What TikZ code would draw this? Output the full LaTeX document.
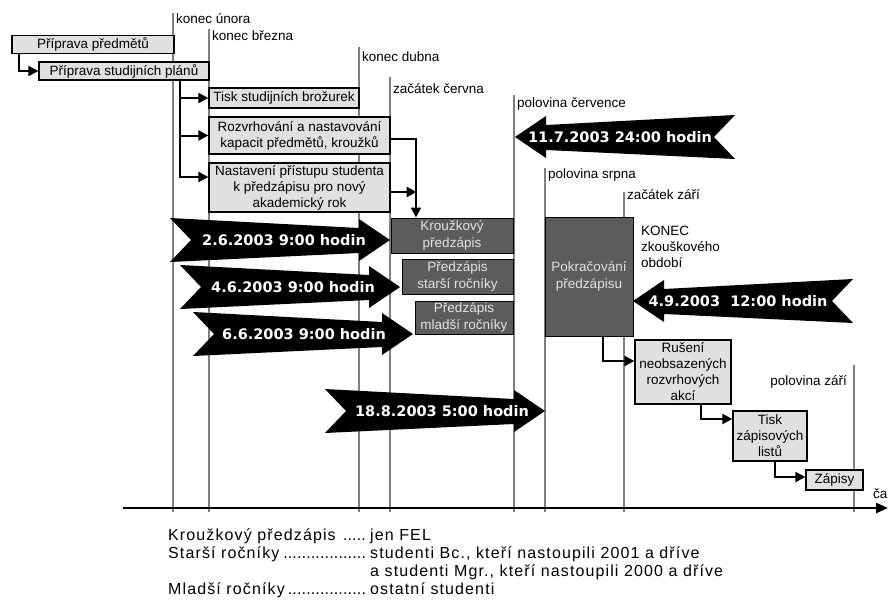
\documentclass[tikz,border=0pt]{standalone}
\usepackage{fontspec}
\setmainfont{Liberation Sans}
\newfontfamily\bannerfont{DejaVu Sans}
\newfontfamily\legendfont[LetterSpace=7]{Liberation Sans}
\usepackage{tikz}
\usetikzlibrary{arrows.meta}
\definecolor{boxgray}{RGB}{224,224,224}
\definecolor{predgray}{RGB}{92,92,92}
\definecolor{predtext}{RGB}{226,226,226}
\definecolor{linegray}{RGB}{128,128,128}
\newcommand{\legdots}{\leaders\hbox to 4.6pt{\hss.\hss}\hfill}

\begin{document}
\begin{tikzpicture}[x=1pt,y=-1pt,
    lbox/.style={draw,fill=boxgray,line width=1.2pt,inner sep=0pt,align=center,
      font=\fontsize{13.5}{16}\selectfont},
    dbox/.style={draw,fill=predgray,text=predtext,line width=1pt,inner sep=0pt,align=center,
      font=\fontsize{13.5}{16.5}\selectfont},
    tline/.style={draw=linegray,line width=2pt},
    conn/.style={draw,line width=2pt,-{Triangle[length=10pt,width=10pt]}},
    btext/.style={text=white,inner sep=0pt,font=\bannerfont\bfseries\fontsize{14.5}{16}\selectfont},
    lab/.style={anchor=base west,inner sep=0pt,font=\fontsize{13.5}{16}\selectfont},
    leg/.style={anchor=base west,inner sep=0pt,font=\legendfont\fontsize{16}{18}\selectfont},
    banner/.pic={\fill (0,0) -- (-31,-21) -- (-31,-12) -- (-220,-22) -- (-199,0)
      -- (-220,22) -- (-31,13) -- (-31,21) -- cycle;}]
  \path[use as bounding box,fill=white] (0,0) rectangle (889,600);

  % time lines
  \foreach \x/\t in {173/13,209/29,359/47,390/77,514/95,545/168,624/192,854/365}
    \draw[tline] (\x,\t) -- (\x,512);
  \node[lab] (unor) at (176,23) {konec února};
  \node[lab] (brez) at (212,40) {konec března};
  \node[lab] (dub) at (362,61) {konec dubna};
  \node[lab] (cerv) at (393,93) {začátek června};
  \node[lab] (cvc) at (517,107) {polovina července};
  \node[lab] (srp) at (548,178) {polovina srpna};
  \node[lab] (zari) at (627,199) {začátek září};
  \node[lab,anchor=base east] (pzari) at (847,385) {polovina září};

  % axis
  \coordinate (t0) at (123,508);
  \coordinate (t1) at (888,508);
  \draw[line width=2.5pt,-{Triangle[length=12pt,width=10pt]}] (t0) -- (t1);
  \node[lab] (cas) at (873,498) {ča};

  % preparation
  \node[lbox,minimum width=162,minimum height=18] (pprep) at (93,44.5) {Příprava předmětů};
  \node[lbox,minimum width=170,minimum height=18] (pstud) at (124,71) {Příprava studijních plánů};
  \node[lbox,minimum width=150,minimum height=20] (tisk) at (284,98) {Tisk studijních brožurek};
  \node[lbox,minimum width=181,minimum height=37] (rozv) at (299.5,135.5)
    {Rozvrhování a nastavování\\kapacit předmětů, kroužků};
  \node[lbox,minimum width=181,minimum height=49] (nast) at (299.5,187.5)
    {Nastavení přístupu studenta\\k předzápisu pro nový\\akademický rok};

  % pre-enrolment
  \node[dbox,minimum width=122,minimum height=35] (kruz) at (452,235.5) {Kroužkový\\předzápis};
  \node[dbox,minimum width=111,minimum height=35] (star) at (457.5,276.5) {Předzápis\\starší ročníky};
  \node[dbox,minimum width=98,minimum height=33] (mlad) at (464,317.5) {Předzápis\\mladší ročníky};
  \node[dbox,minimum width=88,minimum height=119] (pokr) at (589,276.5) {Pokračování\\předzápisu};
  \node[lab,anchor=north west,align=left] (konec) at (641,226) {KONEC\\zkouškového\\období};

  % end
  \node[lbox,minimum width=96,minimum height=64] (rus) at (683,372)
    {Rušení\\neobsazených\\rozvrhových\\akcí};
  \node[lbox,minimum width=74,minimum height=50] (tlist) at (770,436) {Tisk\\zápisových\\listů};
  \node[lbox,minimum width=57,minimum height=20] (zap) at (834.5,480) {Zápisy};

  % dates
  \pic at (390,240) {banner};
  \node[btext] (d26) at (284,240) {2.6.2003 9:00 hodin};
  \pic at (400,287) {banner};
  \node[btext] (d46) at (293,287) {4.6.2003 9:00 hodin};
  \pic at (413,334) {banner};
  \node[btext] (d66) at (304,334) {6.6.2003 9:00 hodin};
  \pic at (545,411) {banner};
  \node[btext] (d188) at (442,411) {18.8.2003 5:00 hodin};
  \pic[xscale=-1] at (515,137) {banner};
  \node[btext] (d117) at (620,137) {11.7.2003 24:00 hodin};
  \pic[xscale=-1] at (633,301) {banner};
  \node[btext] (d49) at (738,301) {4.9.2003\ \ 12:00 hodin};

  % connectors
  \coordinate (bus) at (180,80);
  \coordinate (drop) at (416,139);
  \draw[conn] ([xshift=8]pprep.south west) |- (pstud.west);
  \draw[conn] (bus) |- (tisk.west);
  \draw[conn] (bus) |- (rozv.west);
  \draw[conn] (bus) |- ([yshift=10.5]nast.west);
  \draw[conn] ([yshift=-3]rozv.east) -| (drop |- kruz.north);
  \draw[conn] ([yshift=-4.5]nast.east) -- ++(26,0);
  \draw[conn] ([xshift=14]pokr.south) |- ([yshift=11]rus.west);
  \draw[conn] ([xshift=18]rus.south) |- ([yshift=17]tlist.west);
  \draw[conn] ([xshift=5]tlist.south) |- ([yshift=3]zap.west);

  % legend
  \node[leg] (l1a) at (168,540) {\makebox[202pt][l]{Kroužkový předzápis \legdots}};
  \node[leg] (l1b) at (370,540) {jen FEL};
  \node[leg] (l2a) at (168,558) {\makebox[202pt][l]{Starší ročníky\legdots}};
  \node[leg] (l2b) at (370,558) {studenti Bc., kteří nastoupili 2001 a dříve};
  \node[leg] (l3b) at (370,576) {a studenti Mgr., kteří nastoupili 2000 a dříve};
  \node[leg] (l4a) at (168,594) {\makebox[202pt][l]{Mladší ročníky\legdots}};
  \node[leg] (l4b) at (370,594) {ostatní studenti};
\end{tikzpicture}
\end{document}
